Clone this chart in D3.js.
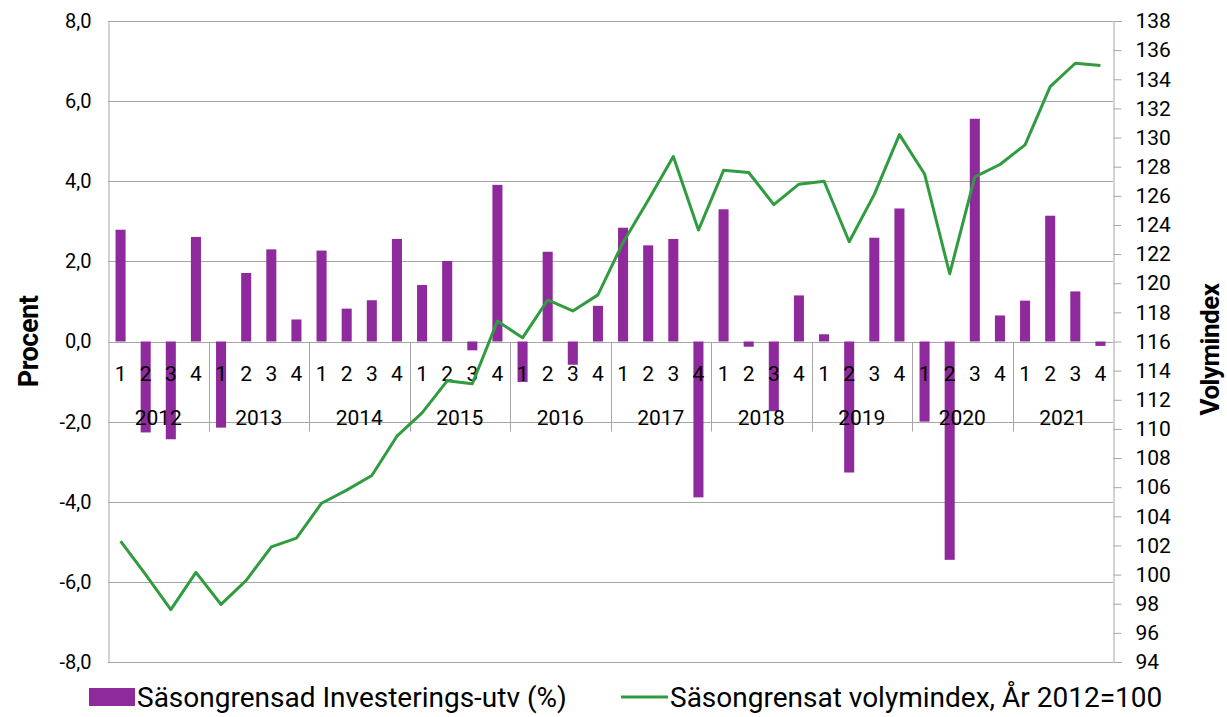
<!DOCTYPE html>
<html>
<head>
<meta charset="utf-8">
<script src="https://cdn.jsdelivr.net/npm/d3@7"></script>
<style>
  body { margin: 0; background: #fff; }
  svg text { font-family: Roboto, "Noto Sans", sans-serif; fill: #000; }
</style>
</head>
<body>
<svg id="chart" width="1227" height="717"></svg>
<script>
(function () {

  'use strict';

  var YEARS = ['2012', '2013', '2014', '2015', '2016', '2017', '2018', '2019', '2020', '2021'];
  var QUARTERS = ['1', '2', '3', '4'];

  // seasonally adjusted investment change (%), one per quarter
  var investChange = [
    2.79, -2.27, -2.44, 2.61,
    -2.15, 1.71, 2.30, 0.55,
    2.27, 0.82, 1.03, 2.56,
    1.41, 2.01, -0.22, 3.91,
    -1.01, 2.24, -0.58, 0.89,
    2.84, 2.40, 2.56, -3.89,
    3.30, -0.13, -1.74, 1.15,
    0.18, -3.27, 2.59, 3.32,
    -2.00, -5.45, 5.56, 0.65,
    1.02, 3.14, 1.25, -0.11
  ];

  // seasonally adjusted volume index, 2012 = 100
  var volumeIndex = [
    102.3, 100.0, 97.6, 100.15,
    97.95, 99.6, 101.9, 102.5,
    104.9, 105.8, 106.8, 109.5,
    111.1, 113.3, 113.1, 117.4,
    116.25, 118.85, 118.1, 119.2,
    122.8, 125.7, 128.7, 123.65,
    127.75, 127.6, 125.4, 126.8,
    127.0, 122.85, 126.1, 130.2,
    127.5, 120.65, 127.3, 128.15,
    129.5, 133.5, 135.1, 134.95
  ];

  var leftTicks = [-8, -6, -4, -2, 0, 2, 4, 6, 8];
  var rightTicks = d3.range(94, 139, 2);

  var PURPLE = '#8e2a9b';
  var GREEN = '#319b40';
  var GRID = '#a6a6a6';

  var margin = { left: 108, right: 114, top: 21, bottom: 55 };
  var width = 1227, height = 717;
  var svg = d3.select('#chart');

  var periods = [];
  YEARS.forEach(function (y) {
    QUARTERS.forEach(function (q) { periods.push(y + '-' + q); });
  });

  var x = d3.scaleBand()
    .domain(periods)
    .range([margin.left, width - margin.right]);

  var xYear = d3.scaleBand()
    .domain(YEARS)
    .range([margin.left, width - margin.right]);

  var yL = d3.scaleLinear().domain([-8, 8]).range([height - margin.bottom, margin.top]);
  var yR = d3.scaleLinear().domain([94, 138]).range([height - margin.bottom, margin.top]);

  // ----------- GRID --------------
  svg.append('g')
    .selectAll('line')
    .data(leftTicks)
    .enter()
    .append('line')
    .attr('x1', margin.left)
    .attr('x2', width - margin.right)
    .attr('y1', function (d) { return Math.round(yL(d)) + 0.5; })
    .attr('y2', function (d) { return Math.round(yL(d)) + 0.5; })
    .attr('stroke', GRID)
    .attr('stroke-width', 1);

  // left axis
  var leftAxis = svg.append('g')
    .attr('transform', 'translate(' + (margin.left + 0.5) + ',0)')
    .call(d3.axisLeft(yL).tickValues(leftTicks).tickSize(0).tickPadding(17)
      .tickFormat(function (d) { return d3.format('.1f')(d).replace('.', ',').replace('−', '-'); }));
  leftAxis.select('.domain').attr('stroke', GRID);
  leftAxis.selectAll('text').attr('font-size', 20).attr('font-family', 'Roboto');

  // right axis
  var rightAxis = svg.append('g')
    .attr('transform', 'translate(' + (width - margin.right + 0.5) + ',0)')
    .call(d3.axisRight(yR).tickValues(rightTicks).tickSize(8).tickPadding(14));
  rightAxis.select('.domain').attr('stroke', GRID);
  rightAxis.selectAll('.tick line').attr('stroke', GRID);
  rightAxis.selectAll('text').attr('font-size', 21).attr('font-family', 'Roboto');

  // ----------- BARS --------------
  var barW = x.bandwidth() * 0.4;
  svg.append('g')
    .selectAll('rect')
    .data(investChange)
    .enter()
    .append('rect')
    .attr('x', function (d, i) { return x(periods[i]) + (x.bandwidth() - barW) / 2; })
    .attr('width', barW)
    .attr('y', function (d) { return yL(Math.max(0, d)); })
    .attr('height', function (d) { return Math.abs(yL(d) - yL(0)); })
    .attr('fill', PURPLE);

  // ----------- CATEGORY AXIS AT ZERO --------------
  var zeroY = Math.round(yL(0)) + 0.5;
  var cat = svg.append('g');
  cat.selectAll('line.sep')
    .data(YEARS.slice(1))
    .enter()
    .append('line')
    .attr('class', 'sep')
    .attr('x1', function (d) { return Math.round(xYear(d)) + 0.5; })
    .attr('x2', function (d) { return Math.round(xYear(d)) + 0.5; })
    .attr('y1', zeroY)
    .attr('y2', zeroY + 89)
    .attr('stroke', GRID);

  cat.selectAll('text.q')
    .data(periods)
    .enter()
    .append('text')
    .attr('class', 'q')
    .attr('x', function (d) { return x(d) + x.bandwidth() / 2; })
    .attr('y', zeroY + 38)
    .attr('text-anchor', 'middle')
    .attr('font-size', 21)
    .text(function (d) { return d.split('-')[1]; });

  cat.selectAll('text.y')
    .data(YEARS)
    .enter()
    .append('text')
    .attr('class', 'y')
    .attr('x', function (d) { return xYear(d) + xYear.bandwidth() / 2; })
    .attr('y', zeroY + 82)
    .attr('text-anchor', 'middle')
    .attr('font-size', 21)
    .text(function (d) { return d; });

  // ----------- LINE --------------
  var line = d3.line()
    .x(function (d, i) { return x(periods[i]) + x.bandwidth() / 2; })
    .y(function (d) { return yR(d); });

  svg.append('path')
    .datum(volumeIndex)
    .attr('d', line)
    .attr('fill', 'none')
    .attr('stroke', GREEN)
    .attr('stroke-width', 3)
    .attr('stroke-linejoin', 'round');

  // ----------- AXIS TITLES --------------
  svg.append('text')
    .attr('transform', 'translate(38,' + yL(0) + ') rotate(-90)')
    .attr('text-anchor', 'middle')
    .attr('font-size', 27)
    .attr('font-weight', 'bold')
    .attr('letter-spacing', -0.5)
    .text('Procent');

  svg.append('text')
    .attr('transform', 'translate(1219,' + (yL(0) + 8) + ') rotate(-90)')
    .attr('text-anchor', 'middle')
    .attr('font-size', 26)
    .attr('font-weight', 'bold')
    .attr('letter-spacing', -0.5)
    .text('Volymindex');

  // ----------- LEGEND --------------
  var legend = svg.append('g');
  legend.append('rect')
    .attr('x', 89).attr('y', 688).attr('width', 46).attr('height', 18)
    .attr('fill', PURPLE);
  legend.append('text')
    .attr('x', 137).attr('y', 707)
    .attr('font-size', 28)
    .text('Säsongrensad Investerings-utv (%)');
  legend.append('line')
    .attr('x1', 621).attr('x2', 668).attr('y1', 697).attr('y2', 697)
    .attr('stroke', GREEN).attr('stroke-width', 3);
  legend.append('text')
    .attr('x', 670).attr('y', 707)
    .attr('font-size', 28)
    .text('Säsongrensat volymindex, År 2012=100');

})();
</script>
</body>
</html>
